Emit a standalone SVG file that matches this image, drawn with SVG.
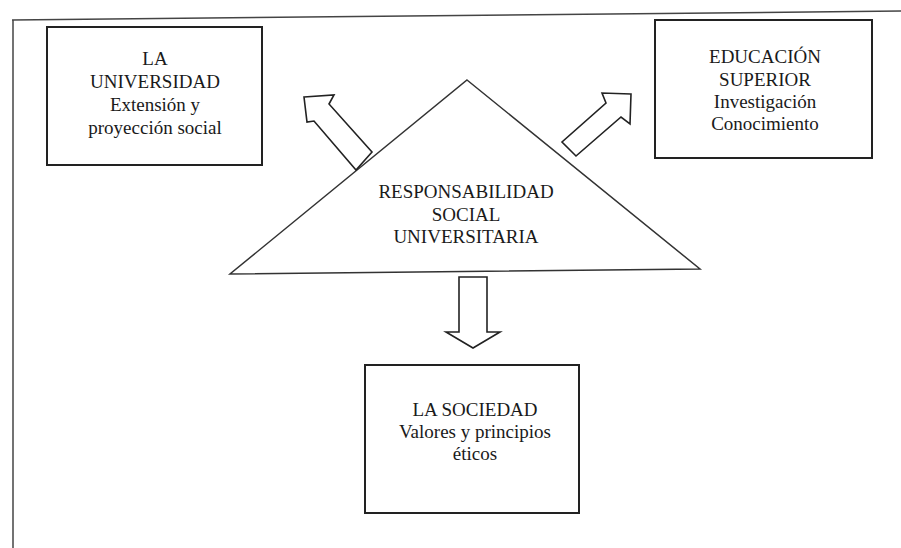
<svg xmlns="http://www.w3.org/2000/svg" width="901" height="548" viewBox="0 0 901 548">
<style>
.box{fill:none;stroke:#222;stroke-width:2}
.frame{fill:none;stroke:#444;stroke-width:1.5}
.conn{fill:#fff;stroke:#222;stroke-width:1.6;stroke-linejoin:miter}
text{font-family:"Liberation Serif","Times New Roman","DejaVu Serif",serif;font-size:19px;fill:#1a1a1a;text-anchor:middle}
</style>
<rect width="901" height="548" fill="#fff"/>
<g id="frame">
<line class="frame" x1="12" y1="20" x2="901" y2="11"/>
<line class="frame" x1="13" y1="20" x2="13" y2="548"/>
</g>
<g id="la-universidad">
<rect class="box" x="47" y="27" width="215" height="138"/>
<text x="155" y="65">LA</text>
<text x="155" y="88">UNIVERSIDAD</text>
<text x="155" y="111">Extensión y</text>
<text x="155" y="134">proyección social</text>
</g>
<g id="educacion-superior">
<rect class="box" x="655" y="20" width="217" height="138"/>
<text x="765" y="63">EDUCACIÓN</text>
<text x="765" y="86">SUPERIOR</text>
<text x="765" y="108">Investigación</text>
<text x="765" y="130">Conocimiento</text>
</g>
<g id="rsu">
<polygon class="frame" style="stroke:#333" points="467,80 700,269 230,274"/>
<text x="466" y="198">RESPONSABILIDAD</text>
<text x="466" y="221">SOCIAL</text>
<text x="466" y="243">UNIVERSITARIA</text>
</g>
<g id="la-sociedad">
<rect class="box" x="365" y="365" width="214" height="148"/>
<text x="475" y="416">LA SOCIEDAD</text>
<text x="475" y="438">Valores y principios</text>
<text x="475" y="460">éticos</text>
</g>
<g id="connectors">
<polygon class="conn" points="304,97 334,95 329,104 372,152 356,170 314,121 307,122"/>
<polygon class="conn" points="631,94 602,93 606,103 562,142 576,156 621,117 630,124"/>
<polygon class="conn" points="459,277 487,277 487,332 500,332 473,348 446,332 459,332"/>
</g>
</svg>
